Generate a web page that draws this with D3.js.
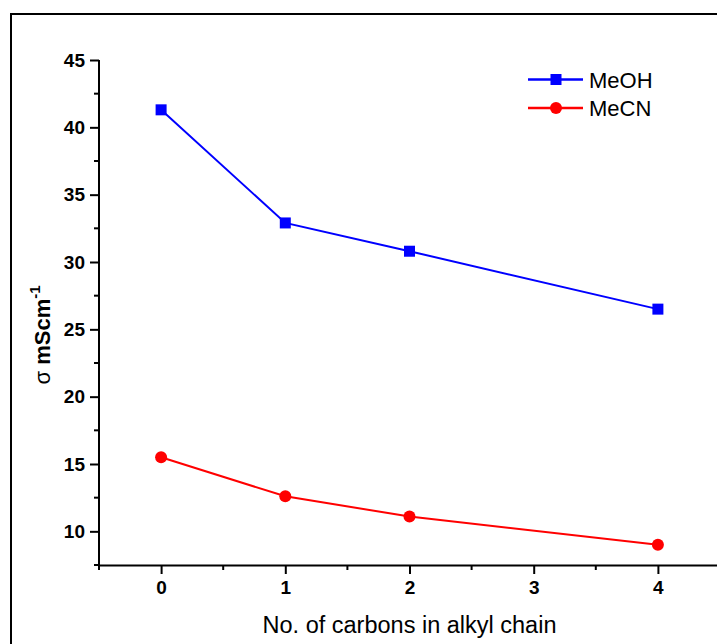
<!DOCTYPE html>
<html>
<head>
<meta charset="utf-8">
<script src="https://cdn.jsdelivr.net/npm/d3@7/dist/d3.min.js"></script>
<style>
  html, body { margin: 0; padding: 0; background: #fff; }
  svg { display: block; font-family: "Liberation Sans", Arial, sans-serif; }
</style>
</head>
<body>
<svg id="chart" width="717" height="644"></svg>
<script>
// Conductivity vs. alkyl chain length
const carbons = [0, 1, 2, 4];
const meohValues = [41.3, 32.9, 30.8, 26.5];
const mecnValues = [15.5, 12.6, 11.1, 9.0];
const seriesNames = ["MeOH", "MeCN"];
const xTicks = [0, 1, 2, 3, 4];
const yTicks = [10, 15, 20, 25, 30, 35, 40, 45];

const svg = d3.select("#chart");
const W = 717, H = 644;
const plotLeft = 99, plotRight = 720, plotTop = 60, plotBottom = 565;

const x = d3.scaleLinear().domain([-0.5, 4.5]).range([plotLeft, plotRight]);
const y = d3.scaleLinear().domain([7.5, 45]).range([plotBottom, plotTop]);

// outer frame
svg.append("rect")
  .attr("x", 11).attr("y", 14)
  .attr("width", W + 20).attr("height", H + 20)
  .attr("fill", "none").attr("stroke", "#000").attr("stroke-width", 2);

// minor ticks
const yMinor = d3.range(7.5, 45.01, 2.5).filter(v => !yTicks.includes(v));
const xMinor = d3.range(-0.5, 4.51, 0.5).filter(v => !xTicks.includes(v));

svg.append("g").selectAll("line").data(yMinor).join("line")
  .attr("x1", plotLeft - 5).attr("x2", plotLeft)
  .attr("y1", d => y(d)).attr("y2", d => y(d))
  .attr("stroke", "#000").attr("stroke-width", 2);
svg.append("g").selectAll("line").data(xMinor).join("line")
  .attr("y1", plotBottom).attr("y2", plotBottom + 5)
  .attr("x1", d => x(d)).attr("x2", d => x(d))
  .attr("stroke", "#000").attr("stroke-width", 2);

// axes
const fmt = d3.format("d");
const yAxis = svg.append("g")
  .attr("transform", `translate(${plotLeft},0)`)
  .call(d3.axisLeft(y).tickValues(yTicks).tickFormat(fmt)
    .tickSize(9).tickPadding(5).tickSizeOuter(0));
const xAxis = svg.append("g")
  .attr("transform", `translate(0,${plotBottom})`)
  .call(d3.axisBottom(x).tickValues(xTicks).tickFormat(fmt)
    .tickSize(9).tickPadding(7).tickSizeOuter(0));

[xAxis, yAxis].forEach(g => {
  g.attr("font-size", 19).attr("font-family", null);
  g.select(".domain").attr("stroke-width", 2);
  g.selectAll(".tick line").attr("stroke-width", 2);
  g.selectAll(".tick text")
    .attr("font-size", 19).attr("font-weight", "bold").attr("fill", "#000");
});
// y axis line runs from the bottom axis up to the top tick
yAxis.select(".domain").attr("d", `M0,${plotBottom}V${plotTop}`);

// axis titles
svg.append("text")
  .attr("x", (plotLeft + plotRight) / 2).attr("y", 633)
  .attr("text-anchor", "middle")
  .attr("font-size", 23.5)
  .text("No. of carbons in alkyl chain");

const yt = svg.append("text")
  .attr("transform", `translate(50,335) rotate(-90)`)
  .attr("text-anchor", "middle")
  .attr("font-size", 22).attr("font-weight", "bold");
yt.append("tspan").attr("font-weight", "normal").text("σ");
yt.append("tspan").text(" mScm");
yt.append("tspan").attr("font-size", 15).attr("dy", -10).text("-1");

// series
const series = [
  { name: seriesNames[0], values: meohValues, color: "#0000ff", shape: "square" },
  { name: seriesNames[1], values: mecnValues, color: "#ff0000", shape: "circle" }
];

const line = d3.line().x(d => x(d[0])).y(d => y(d[1]));

function drawMarker(g, cx, cy, s) {
  if (s.shape === "square") {
    g.append("rect").attr("x", cx - 5.5).attr("y", cy - 5.5)
      .attr("width", 11).attr("height", 11).attr("fill", s.color);
  } else {
    g.append("circle").attr("cx", cx).attr("cy", cy).attr("r", 6).attr("fill", s.color);
  }
}

series.forEach(s => {
  const pts = carbons.map((c, i) => [c, s.values[i]]);
  svg.append("path").attr("d", line(pts))
    .attr("fill", "none").attr("stroke", s.color).attr("stroke-width", 2);
  const g = svg.append("g");
  pts.forEach(p => drawMarker(g, x(p[0]), y(p[1]), s));
});

// legend
const legend = svg.append("g");
series.forEach((s, i) => {
  const ly = 79.5 + i * 28.5;
  legend.append("line").attr("x1", 528).attr("x2", 583)
    .attr("y1", ly).attr("y2", ly)
    .attr("stroke", s.color).attr("stroke-width", 2.5);
  drawMarker(legend, 556, ly, s);
  legend.append("text").attr("x", 589).attr("y", ly + 8)
    .attr("font-size", 22).text(s.name);
});
</script>
</body>
</html>
